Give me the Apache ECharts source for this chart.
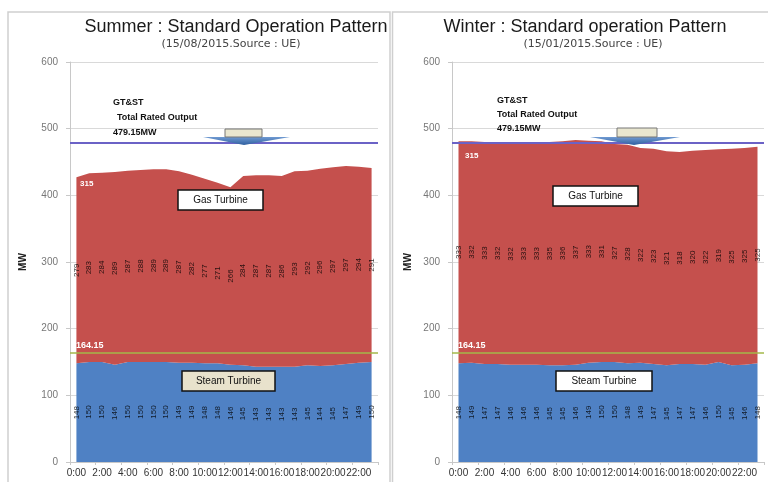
<!DOCTYPE html>
<html>
<head>
<meta charset="utf-8">
<script src="https://cdn.jsdelivr.net/npm/echarts@6/dist/echarts.min.js"></script>
<style>
  html, body { margin: 0; padding: 0; background: #ffffff; }
  #chart { width: 768px; height: 482px; }
</style>
</head>
<body>
<div id="chart"></div>
<script>
// Hourly categories (0:00 .. 23:00)
const hours = ['0:00','1:00','2:00','3:00','4:00','5:00','6:00','7:00','8:00','9:00','10:00','11:00',
               '12:00','13:00','14:00','15:00','16:00','17:00','18:00','19:00','20:00','21:00','22:00','23:00'];

// Summer day 15/08/2015 (MW)
const summerSteam = [148,150,150,146,150,150,150,150,149,149,148,148,146,145,143,143,143,143,145,144,145,147,149,150];
const summerGas   = [279,283,284,289,287,288,289,289,287,282,277,271,266,284,287,287,286,293,292,296,297,297,294,291];

// Winter day 15/01/2015 (MW)
const winterSteam = [148,149,147,147,146,146,146,145,145,146,149,150,150,148,149,147,145,147,147,146,150,145,146,148];
const winterGas   = [333,332,333,332,332,333,333,335,336,337,333,331,327,328,322,323,321,318,320,322,319,325,325,325];

// Rated capacities (MW)
const ratedTotal = 479.15;
const ratedSteam = 164.15;
const ratedGas = 315;

const FONT = '"Liberation Sans", Arial, sans-serif';
const RED = '#c5504d';
const BLUE = '#4f81c4';

function yAxisCfg(gridIndex, nameGap) {
  return {
    gridIndex, type: 'value', min: 0, max: 600, interval: 100,
    name: 'MW', nameLocation: 'middle', nameRotate: 90, nameGap,
    nameTextStyle: { fontFamily: FONT, fontWeight: 'bold', fontSize: 10, color: '#222' },
    axisLine: { show: true, lineStyle: { color: '#c8c8c8' } },
    axisTick: { show: true, length: 4, lineStyle: { color: '#c8c8c8' } },
    axisLabel: { fontFamily: FONT, fontSize: 10, color: '#777', margin: 12 },
    splitLine: { show: true, lineStyle: { color: '#d9d9d9' } }
  };
}

function xAxisCfg(gridIndex) {
  return {
    gridIndex, type: 'category', data: hours, boundaryGap: true,
    axisLine: { show: true, lineStyle: { color: '#c8c8c8' } },
    axisTick: { show: true, length: 3, interval: 1, lineStyle: { color: '#c8c8c8' } },
    axisLabel: { interval: 1, fontFamily: FONT, fontSize: 10, color: '#333', margin: 6 }
  };
}

function panelSeries(idx, steam, gas, stackName) {
  // label anchors sit at the middle of each stacked band
  const steamMid = steam.map(v => v / 2);
  const gasMid = gas.map((v, i) => steam[i] + v / 2);
  const valueLabel = (vals) => ({
    show: true, position: 'inside', rotate: 90,
    fontFamily: FONT, fontSize: 8, color: '#000',
    formatter: p => String(vals[p.dataIndex])
  });
  return [
    {
      name: 'Steam Turbine', type: 'line', stack: stackName,
      xAxisIndex: idx, yAxisIndex: idx, data: steam,
      symbol: 'none', lineStyle: { width: 0 },
      areaStyle: { color: BLUE, opacity: 1 }, silent: true, z: 2
    },
    {
      name: 'Gas Turbine', type: 'line', stack: stackName,
      xAxisIndex: idx, yAxisIndex: idx, data: gas,
      symbol: 'none', lineStyle: { width: 0 },
      areaStyle: { color: RED, opacity: 1 }, silent: true, z: 2,
      markLine: {
        silent: true, symbol: 'none', animation: false,
        data: [
          { yAxis: ratedTotal, lineStyle: { color: '#6b62c6', width: 2, type: 'solid' }, label: { show: false } },
          { yAxis: ratedSteam, lineStyle: { color: '#a3b84a', width: 1.5, type: 'solid' },
            label: { show: true, position: 'insideStartTop', formatter: String(ratedSteam),
                     color: '#ffffff', fontFamily: FONT, fontSize: 9, fontWeight: 'bold', distance: [6, 3] } }
        ]
      }
    },
    {
      type: 'scatter', xAxisIndex: idx, yAxisIndex: idx, data: steamMid,
      symbolSize: 1, itemStyle: { color: 'rgba(0,0,0,0)' }, silent: true, z: 5,
      label: valueLabel(steam)
    },
    {
      type: 'scatter', xAxisIndex: idx, yAxisIndex: idx, data: gasMid,
      symbolSize: 1, itemStyle: { color: 'rgba(0,0,0,0)' }, silent: true, z: 5,
      label: valueLabel(gas)
    }
  ];
}

function txt(x, y, text, opts) {
  return {
    type: 'text', x, y, z: 100, silent: true,
    style: Object.assign({ text, fontFamily: FONT, fill: '#111', align: 'left', verticalAlign: 'middle', fontSize: 9 }, opts || {})
  };
}

function box(x, y, w, h, fill, label) {
  return [
    { type: 'rect', z: 100, silent: true, shape: { x, y, width: w, height: h },
      style: { fill, stroke: '#111', lineWidth: 1.5 } },
    txt(x + w / 2, y + h / 2, label, { align: 'center', fontSize: 10 })
  ];
}

function arrow(bx, by, bw, bh, lx, rx, tipX, tipY) {
  return [
    { type: 'polygon', z: 99, silent: true,
      shape: { points: [[lx, by + bh], [rx, by + bh], [tipX, tipY]] },
      style: { fill: {
        type: 'linear', x: 0, y: 0, x2: 0, y2: 1,
        colorStops: [{ offset: 0, color: '#6f9ad2' }, { offset: 1, color: '#2f5f9f' }] } } },
    { type: 'rect', z: 100, silent: true, shape: { x: bx, y: by, width: bw, height: bh },
      style: { fill: '#e9e6cf', stroke: '#777', lineWidth: 1 } }
  ];
}

const SUB_FONT = '"DejaVu Sans", "Liberation Sans", sans-serif';

const graphics = [
  // panel frames
  { type: 'rect', z: 0, silent: true, shape: { x: 8, y: 12, width: 382, height: 476 },
    style: { fill: 'none', stroke: '#cfcfcf', lineWidth: 1.5 } },
  { type: 'rect', z: 0, silent: true, shape: { x: 392.5, y: 12, width: 380, height: 476 },
    style: { fill: 'none', stroke: '#cfcfcf', lineWidth: 1.5 } },

  // titles
  txt(236, 27, 'Summer : Standard Operation Pattern', { align: 'center', fontSize: 18, fill: '#1a1a1a' }),
  txt(231, 44, '(15/08/2015.Source : UE)', { align: 'center', fontSize: 11, fill: '#444', fontFamily: SUB_FONT }),
  txt(585, 27, 'Winter : Standard operation Pattern', { align: 'center', fontSize: 18, fill: '#1a1a1a' }),
  txt(593, 44, '(15/01/2015.Source : UE)', { align: 'center', fontSize: 11, fill: '#444', fontFamily: SUB_FONT }),

  // summer annotations
  txt(113, 103, 'GT&ST', { fontWeight: 'bold' }),
  txt(117, 118, 'Total Rated Output', { fontWeight: 'bold' }),
  txt(113, 133, ratedTotal + 'MW', { fontWeight: 'bold' }),
  ...arrow(225, 129, 37, 8, 203, 290, 244, 145),
  txt(80, 184, String(ratedGas), { fontWeight: 'bold', fill: '#ffffff', fontSize: 8 }),
  ...box(178, 190, 85, 20, '#ffffff', 'Gas Turbine'),
  ...box(182, 371, 93, 20, '#e8e2cc', 'Steam Turbine'),

  // winter annotations
  txt(497, 101, 'GT&ST', { fontWeight: 'bold' }),
  txt(497, 115, 'Total Rated Output', { fontWeight: 'bold' }),
  txt(497, 129, ratedTotal + 'MW', { fontWeight: 'bold' }),
  ...arrow(617, 128, 40, 9, 590, 680, 634, 145),
  txt(465, 156, String(ratedGas), { fontWeight: 'bold', fill: '#ffffff', fontSize: 8 }),
  ...box(553, 186, 85, 20, '#ffffff', 'Gas Turbine'),
  ...box(556, 371, 96, 20, '#ffffff', 'Steam Turbine')
];

const chart = echarts.init(document.getElementById('chart'), null, { renderer: 'canvas' });
chart.setOption({
  animation: false,
  backgroundColor: '#ffffff',
  grid: [
    { left: 70, top: 62, width: 308, height: 400 },
    { left: 452, top: 62, width: 312, height: 400 }
  ],
  xAxis: [xAxisCfg(0), xAxisCfg(1)],
  yAxis: [yAxisCfg(0, 42), yAxisCfg(1, 39)],
  series: [
    ...panelSeries(0, summerSteam, summerGas, 'summer'),
    ...panelSeries(1, winterSteam, winterGas, 'winter')
  ],
  graphic: graphics
});
</script>
</body>
</html>
